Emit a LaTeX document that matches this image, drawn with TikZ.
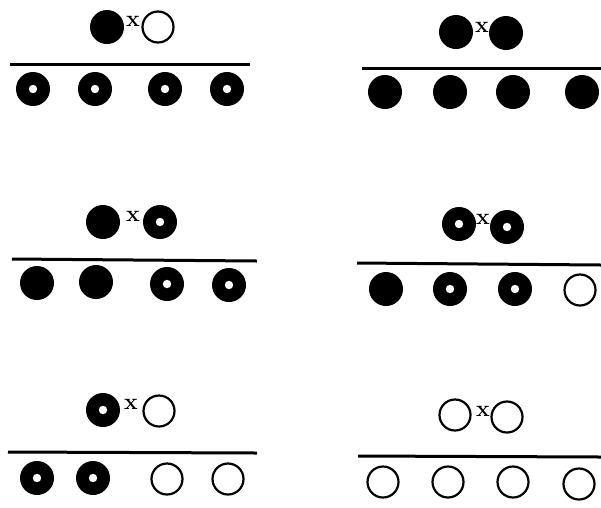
\documentclass[tikz,border=0pt]{standalone}
\begin{document}
\begin{tikzpicture}[x=1pt,y=-1pt,
  hom/.style={circle,fill=black,inner sep=0pt,minimum size=34pt},
  het/.style={circle,fill=black,inner sep=0pt,minimum size=34pt,
    path picture={\fill[white] (path picture bounding box.center) circle (4.2);}},
  rec/.style={circle,draw=black,line width=2.2pt,fill=white,inner sep=0pt,minimum size=31pt},
  cross/.style={inner sep=0pt,font=\fontsize{23}{23}\selectfont\bfseries},
  bar/.style={line width=3pt}]
\useasboundingbox (0,0) rectangle (601,507);
\fill[white] (0,0) rectangle (601,507);
% Panel 1
\node[hom] (p1a) at (107,27) {};
\node[rec] (p1b) at (158,27) {};
\node[cross] (x1) at (133,21) {x};
\draw[bar] (10,64) -- (250,64);
\node[het] (o1a) at (33,89) {};
\node[het] (o1b) at (95,89) {};
\node[het] (o1c) at (165,89) {};
\node[het] (o1d) at (227,89) {};
% Panel 2
\node[hom] (p2a) at (456,32) {};
\node[hom] (p2b) at (506,33) {};
\node[cross] (x2) at (482,27) {x};
\draw[bar] (362,68) -- (601,68);
\node[hom] (o2a) at (385,92) {};
\node[hom] (o2b) at (450,92) {};
\node[hom] (o2c) at (513,92) {};
\node[hom] (o2d) at (582,92) {};
% Panel 3
\node[hom] (p3a) at (103,222) {};
\node[het] (p3b) at (160,222) {};
\node[cross] (x3) at (133,216) {x};
\draw[bar] (12,259) -- (257,261);
\node[hom] (o3a) at (37,283) {};
\node[hom] (o3b) at (96,282) {};
\node[het] (o3c) at (167,284) {};
\node[het] (o3d) at (229,285) {};
% Panel 4
\node[het] (p4a) at (459,224) {};
\node[het] (p4b) at (507,227) {};
\node[cross] (x4) at (483,219) {x};
\draw[bar] (357,263) -- (601,265);
\node[hom] (o4a) at (386,289) {};
\node[het] (o4b) at (450,289) {};
\node[het] (o4c) at (515,289) {};
\node[rec] (o4d) at (580,290) {};
% Panel 5
\node[het] (p5a) at (103,410) {};
\node[rec] (p5b) at (159,411) {};
\node[cross] (x5) at (131,404) {x};
\draw[bar] (8,452) -- (257,453);
\node[het] (o5a) at (37,478) {};
\node[het] (o5b) at (93,478) {};
\node[rec] (o5c) at (167,479) {};
\node[rec] (o5d) at (228,479) {};
% Panel 6
\node[rec] (p6a) at (455,415) {};
\node[rec] (p6b) at (507,417) {};
\node[cross] (x6) at (483,411) {x};
\draw[bar] (358,456) -- (601,457);
\node[rec] (o6a) at (383,482) {};
\node[rec] (o6b) at (448,482) {};
\node[rec] (o6c) at (513,482) {};
\node[rec] (o6d) at (579,484) {};
\end{tikzpicture}
\end{document}
